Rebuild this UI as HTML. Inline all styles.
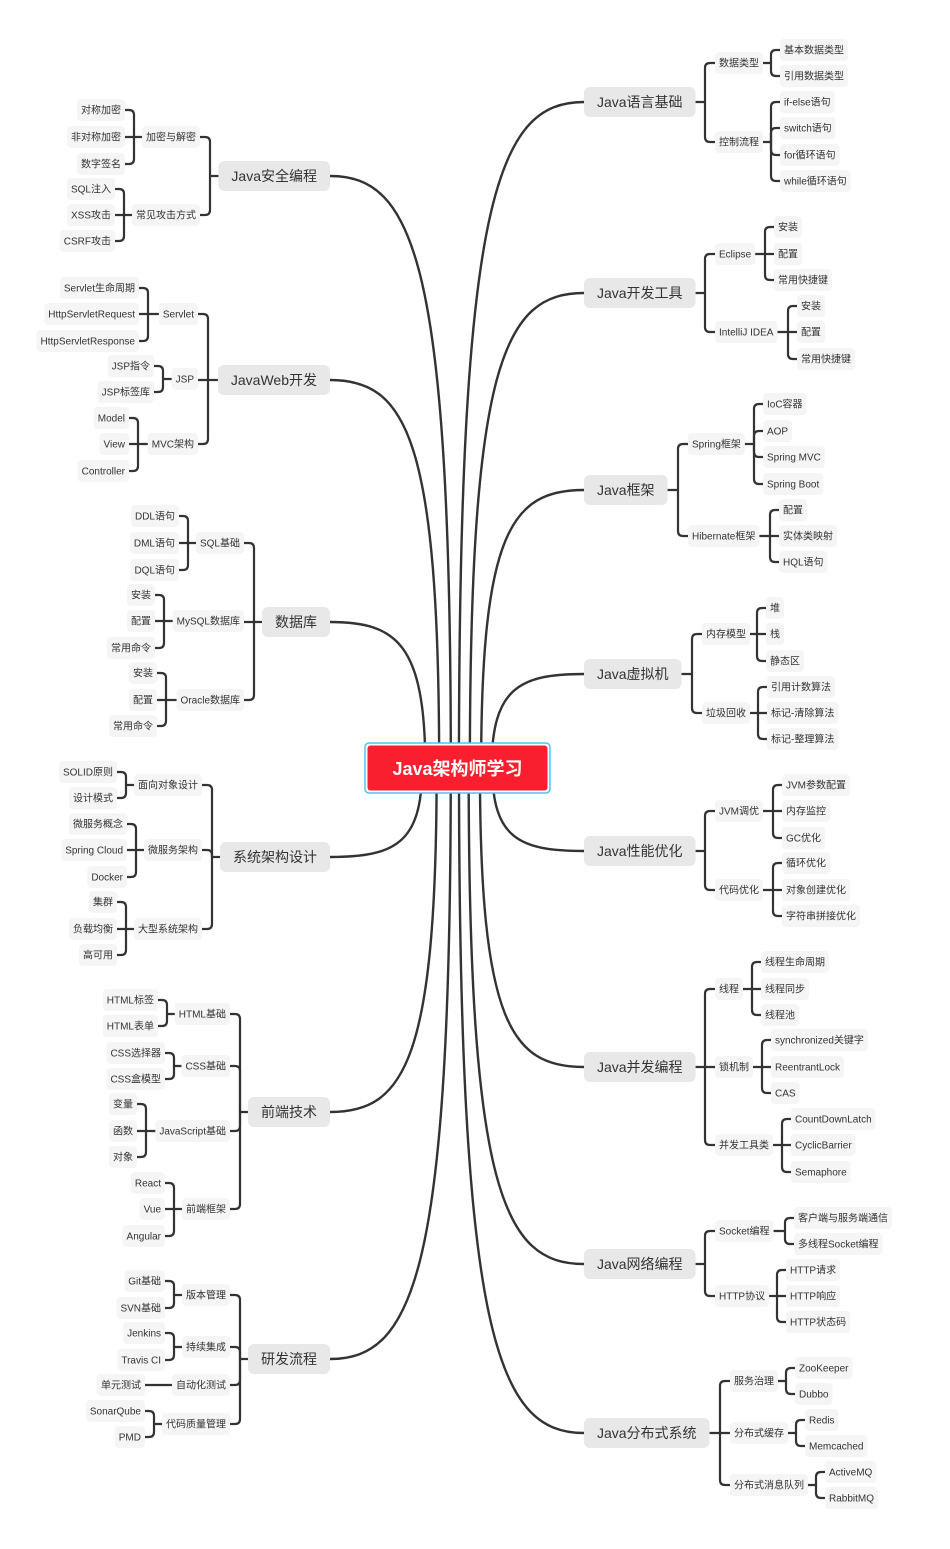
<!DOCTYPE html>
<html><head><meta charset="utf-8"><style>
html,body{margin:0;padding:0;background:#fff;width:950px;height:1549px;overflow:hidden}
svg{display:block}
text{font-family:"Liberation Sans","Noto Sans CJK SC",sans-serif;fill:#333}
</style></head><body>
<svg id="s" width="950" height="1549" xmlns="http://www.w3.org/2000/svg"><g id="L" fill="none" stroke="#333" stroke-width="2.2" stroke-linecap="round"></g><g id="N"></g></svg>
<script>
var data=[
[1,"Java语言基础",102,705,[["数据类型",63,771,[["基本数据类型",50],["引用数据类型",76]]],["控制流程",142,771,[["if-else语句",102],["switch语句",128],["for循环语句",155],["while循环语句",181]]]]],
[1,"Java开发工具",293,705,[["Eclipse",254,765,[["安装",227],["配置",254],["常用快捷键",280]]],["IntelliJ IDEA",332,788,[["安装",306],["配置",332],["常用快捷键",359]]]]],
[1,"Java框架",490,678,[["Spring框架",444,754,[["IoC容器",404],["AOP",431],["Spring MVC",457],["Spring Boot",484]]],["Hibernate框架",536,770,[["配置",510],["实体类映射",536],["HQL语句",562]]]]],
[1,"Java虚拟机",674,692,[["内存模型",634,757,[["堆",608],["栈",634],["静态区",661]]],["垃圾回收",713,758,[["引用计数算法",687],["标记-清除算法",713],["标记-整理算法",739]]]]],
[1,"Java性能优化",851,705,[["JVM调优",811,773,[["JVM参数配置",785],["内存监控",811],["GC优化",838]]],["代码优化",890,773,[["循环优化",863],["对象创建优化",890],["字符串拼接优化",916]]]]],
[1,"Java并发编程",1067,705,[["线程",989,752,[["线程生命周期",962],["线程同步",989],["线程池",1015]]],["锁机制",1067,762,[["synchronized关键字",1040],["ReentrantLock",1067],["CAS",1093]]],["并发工具类",1145,782,[["CountDownLatch",1119],["CyclicBarrier",1145],["Semaphore",1172]]]]],
[1,"Java网络编程",1264,705,[["Socket编程",1231,785,[["客户端与服务端通信",1218],["多线程Socket编程",1244]]],["HTTP协议",1296,777,[["HTTP请求",1270],["HTTP响应",1296],["HTTP状态码",1322]]]]],
[1,"Java分布式系统",1433,720,[["服务治理",1381,786,[["ZooKeeper",1368],["Dubbo",1394]]],["分布式缓存",1433,796,[["Redis",1420],["Memcached",1446]]],["分布式消息队列",1485,816,[["ActiveMQ",1472],["RabbitMQ",1498]]]]],
[-1,"Java安全编程",176,210,[["加密与解密",137,134,[["对称加密",110],["非对称加密",137],["数字签名",164]]],["常见攻击方式",215,124,[["SQL注入",189],["XSS攻击",215],["CSRF攻击",241]]]]],
[-1,"JavaWeb开发",380,208,[["Servlet",314,148,[["Servlet生命周期",288],["HttpServletRequest",314],["HttpServletResponse",341]]],["JSP",379,163,[["JSP指令",366],["JSP标签库",392]]],["MVC架构",444,138,[["Model",418],["View",444],["Controller",471]]]]],
[-1,"数据库",622,254,[["SQL基础",543,188,[["DDL语句",516],["DML语句",543],["DQL语句",570]]],["MySQL数据库",621,164,[["安装",595],["配置",621],["常用命令",648]]],["Oracle数据库",700,166,[["安装",673],["配置",700],["常用命令",726]]]]],
[-1,"系统架构设计",857,212,[["面向对象设计",785,126,[["SOLID原则",772],["设计模式",798]]],["微服务架构",850,136,[["微服务概念",824],["Spring Cloud",850],["Docker",877]]],["大型系统架构",929,126,[["集群",902],["负载均衡",929],["高可用",955]]]]],
[-1,"前端技术",1112,240,[["HTML基础",1014,167,[["HTML标签",1000],["HTML表单",1026]]],["CSS基础",1066,174,[["CSS选择器",1053],["CSS盒模型",1079]]],["JavaScript基础",1131,146,[["变量",1104],["函数",1131],["对象",1157]]],["前端框架",1209,174,[["React",1183],["Vue",1209],["Angular",1236]]]]],
[-1,"研发流程",1359,240,[["版本管理",1295,174,[["Git基础",1281],["SVN基础",1308]]],["持续集成",1347,174,[["Jenkins",1333],["Travis CI",1360]]],["自动化测试",1385,154,[["单元测试",1385]]],["代码质量管理",1424,154,[["SonarQube",1411],["PMD",1437]]]]]
];
var NS="http://www.w3.org/2000/svg",L=document.getElementById('L'),N=document.getElementById('N');
var cv=document.createElement('canvas').getContext('2d');
function tw(t,f){cv.font=f+'px "Liberation Sans","Noto Sans CJK SC",sans-serif';return cv.measureText(t).width;}
function el(tag,a,p){var e=document.createElementNS(NS,tag);for(var k in a)e.setAttribute(k,a[k]);(p||N).appendChild(e);return e;}
function path(d,w){el('path',{d:d,'stroke-width':w||2.2},L);}
function node(t,edge,y,s,f,h,pad,bg){var w=tw(t,f)+pad*2;var x=s>0?edge:edge-w;
el('rect',{x:x,y:y-h/2,width:w,height:h,rx:(f>12?6:4),fill:bg});
var tx=el('text',{x:x+w/2,y:y+f*0.36,'font-size':f,'text-anchor':'middle'});tx.textContent=t;return w;}
function bracket(s,px,py,bx,ch){
 path('M'+px+','+py+' H'+bx);
 var r=5;
 ch.forEach(function(c){var cy=c[0],ce=c[1];
  if(Math.abs(cy-py)<2){path('M'+bx+','+py+' H'+ce);return;}
  var d=cy>py?1:-1;
  path('M'+bx+','+py+' V'+(cy-d*r)+' Q'+bx+','+cy+' '+(bx+s*r)+','+cy+' H'+ce);
 });
}
var CX=457,CY=768;
data.forEach(function(m){
 var s=m[0],t=m[1],y=m[2],bx=m[3],subs=m[4];
 var mw=tw(t,14)+26;
 var nearX=s>0?584:330;
 var farX=s>0?584+mw:330-mw;
 var dy=Math.abs(y-CY);var k=40*(1-Math.min(dy,700)/700);var sx=CX+s*k;
 var dx=nearX-sx;
 path('M'+sx+','+CY+' C'+sx+','+(y+(CY-y)*0.15)+' '+(sx+dx*0.3)+','+y+' '+nearX+','+y,2.4);
 node(t,nearX,y,s,14,30,13,'#e8e8e8');
 var subEdgeStart=bx+s*10;
 var chs=[];
 subs.forEach(function(sb){
  var st=sb[0],sy=sb[1],lbx=sb[2],leaves=sb[3];
  chs.push([sy,subEdgeStart]);
  var sw=node(st,subEdgeStart,sy,s,10,22,4,'#f5f5f5');
  var sFar=subEdgeStart+s*sw;
  var lEdge=lbx+s*9;
  if(leaves.length==1){path('M'+sFar+','+sy+' H'+(lEdge));}
  else{bracket(s,sFar,sy,lbx,leaves.map(function(l){return [l[1],lEdge];}));}
  leaves.forEach(function(l){node(l[0],lEdge,l[1],s,10,22,4,'#f5f5f5');});
 });
 bracket(s,farX,y,bx,chs);
});
el('rect',{x:365,y:743,width:185,height:50,rx:4,fill:'#fff',stroke:'#4fc3f7','stroke-width':1.5});
el('rect',{x:367.5,y:745.5,width:180,height:45,rx:3,fill:'#f91f2e'});
var c=el('text',{x:457.5,y:775,'font-size':18,'font-weight':'bold','text-anchor':'middle',fill:'#fff'});c.textContent="Java架构师学习";c.style.fill='#fff';
</script>
</body></html>
